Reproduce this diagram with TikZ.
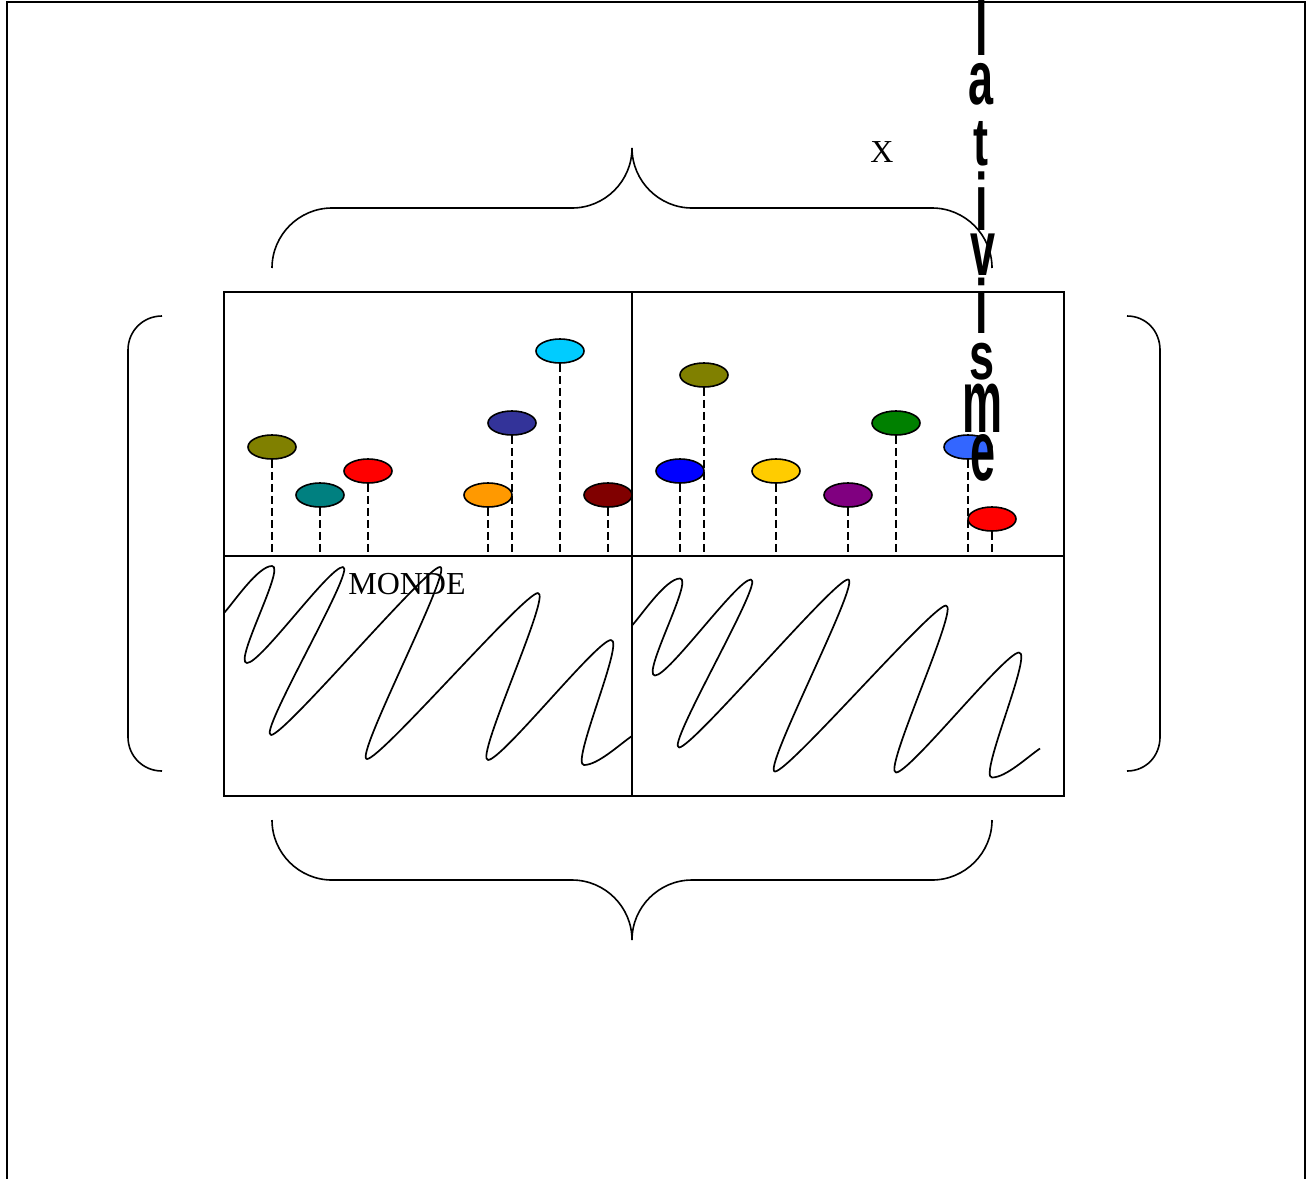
\documentclass[tikz,border=0pt]{standalone}
\usepackage{fontspec}
\setmainfont{Liberation Serif}
\newfontfamily\vsans{Liberation Sans}
\usetikzlibrary{shapes.geometric}
\definecolor{cOlive}{HTML}{808000}
\definecolor{cTeal}{HTML}{008080}
\definecolor{cRed}{HTML}{FF0000}
\definecolor{cOrange}{HTML}{FF9900}
\definecolor{cNavy}{HTML}{333399}
\definecolor{cCyan}{HTML}{00CCFF}
\definecolor{cMaroon}{HTML}{800000}
\definecolor{cBlue}{HTML}{0000FF}
\definecolor{cYellow}{HTML}{FFCC00}
\definecolor{cPurple}{HTML}{800080}
\definecolor{cGreen}{HTML}{008000}
\definecolor{cSky}{HTML}{3366FF}
\begin{document}
\begin{tikzpicture}[x=1pt,y=-1pt,line width=1.8pt,
  bead/.style={ellipse,draw=black,line width=1.6pt,minimum width=48pt,minimum height=24pt,inner sep=0pt},
  pinline/.style={line width=1.7pt,dash pattern=on 8pt off 4pt},
  brace/.style={line width=1.6pt},
  wave/.style={line width=1.7pt,line join=round},
  lbl/.style={inner sep=0pt,anchor=base,font=\fontsize{32}{36}\selectfont},
  vlet/.style={inner sep=0pt,anchor=base,font=\vsans\bfseries\fontsize{45}{45}\selectfont}]
\useasboundingbox (0,0) rectangle (1313,1178);
% outer frame
\draw[line width=1.6pt] (7,2) rectangle (1305,1200);
% panels
\draw (224,292) rectangle (1064,796);
\draw (632,292) -- (632,796);
\draw (224,556) -- (1064,556);
\coordinate (bl) at (0,556);
% braces
\draw[brace] (272,268) .. controls (272,235) and (299,208) .. (332,208) -- (572,208)
  .. controls (605,208) and (632,181) .. (632,148)
  .. controls (632,181) and (659,208) .. (692,208) -- (932,208)
  .. controls (965,208) and (992,235) .. (992,268);
\draw[brace] (272,820) .. controls (272,853) and (299,880) .. (332,880) -- (572,880)
  .. controls (605,880) and (632,907) .. (632,940)
  .. controls (632,907) and (659,880) .. (692,880) -- (932,880)
  .. controls (965,880) and (992,853) .. (992,820);
% parentheses
\draw[brace] (162,316) .. controls (143,316) and (128,331) .. (128,350) -- (128,737)
  .. controls (128,756) and (143,771) .. (162,771);
\draw[brace] (1127,316) .. controls (1146,316) and (1160,331) .. (1160,350) -- (1160,737)
  .. controls (1160,756) and (1146,771) .. (1127,771);
% waves
\foreach \dx/\dy in {0/0,408/12.5}{
\draw[wave,shift={(\dx,\dy)}] (224,613) .. controls (234,602) and (258,566) .. (272,566)
  .. controls (286,566) and (233,663) .. (247,663)
  .. controls (261,663) and (329,567) .. (343,567)
  .. controls (357,567) and (257,735) .. (271,735)
  .. controls (285,735) and (426,567) .. (440,567)
  .. controls (454,567) and (353,759) .. (367,759)
  .. controls (381,759) and (524,593) .. (538,593)
  .. controls (552,593) and (474,760) .. (488,760)
  .. controls (502,760) and (597,640) .. (611,640)
  .. controls (625,640) and (570,765) .. (584,765)
  .. controls (598,765) and (620,744) .. (632,736);
}
% beads left
\node[bead,fill=cOlive]  (o1) at (272,447) {};
\node[bead,fill=cTeal]   (t1) at (320,495) {};
\node[bead,fill=cRed]    (r1) at (368,471) {};
\node[bead,fill=cOrange] (a1) at (488,495) {};
\node[bead,fill=cNavy]   (n1) at (512,423) {};
\node[bead,fill=cCyan]   (c1) at (560,351) {};
\node[bead,fill=cMaroon] (m1) at (608,495) {};
% beads right
\node[bead,fill=cOlive]  (o2) at (704,375) {};
\node[bead,fill=cBlue]   (b2) at (680,471) {};
\node[bead,fill=cYellow] (y2) at (776,471) {};
\node[bead,fill=cPurple] (p2) at (848,495) {};
\node[bead,fill=cGreen]  (g2) at (896,423) {};
\node[bead,fill=cSky]    (s2) at (968,447) {};
\node[bead,fill=cRed]    (r2) at (992,519) {};
\foreach \b in {o1,t1,r1,a1,n1,c1,m1,o2,b2,y2,p2,g2,s2,r2}
  \draw[pinline] (\b.south) -- (\b.south |- bl);
% labels
\node[lbl] (monde) at (407,594) {MONDE};
\node[lbl] (xlab) at (882,162) {X};
% vertical letters
\node[vlet] (v1) at (982,55)  {\scalebox{1}[1.9]{l}};
\node[vlet] (v2) at (981,104) {\scalebox{1}[1.7]{a}};
\node[vlet] (v3) at (981,165) {\scalebox{1}[1.5]{t}};
\node[vlet] (v4) at (982,230) {\scalebox{1}[1.8]{i}};
\node[vlet] (v5) at (983,275) {\scalebox{1}[1.75]{v}};
\node[vlet] (v6) at (982,333) {\scalebox{1}[1.7]{i}};
\node[vlet] (v7) at (982,379) {\scalebox{1}[1.5]{s}};
\node[vlet] (v8) at (982,432) {\scalebox{1}[2.0]{m}};
\node[vlet] (v9) at (983,480) {\scalebox{1}[1.9]{e}};
\end{tikzpicture}
\end{document}
